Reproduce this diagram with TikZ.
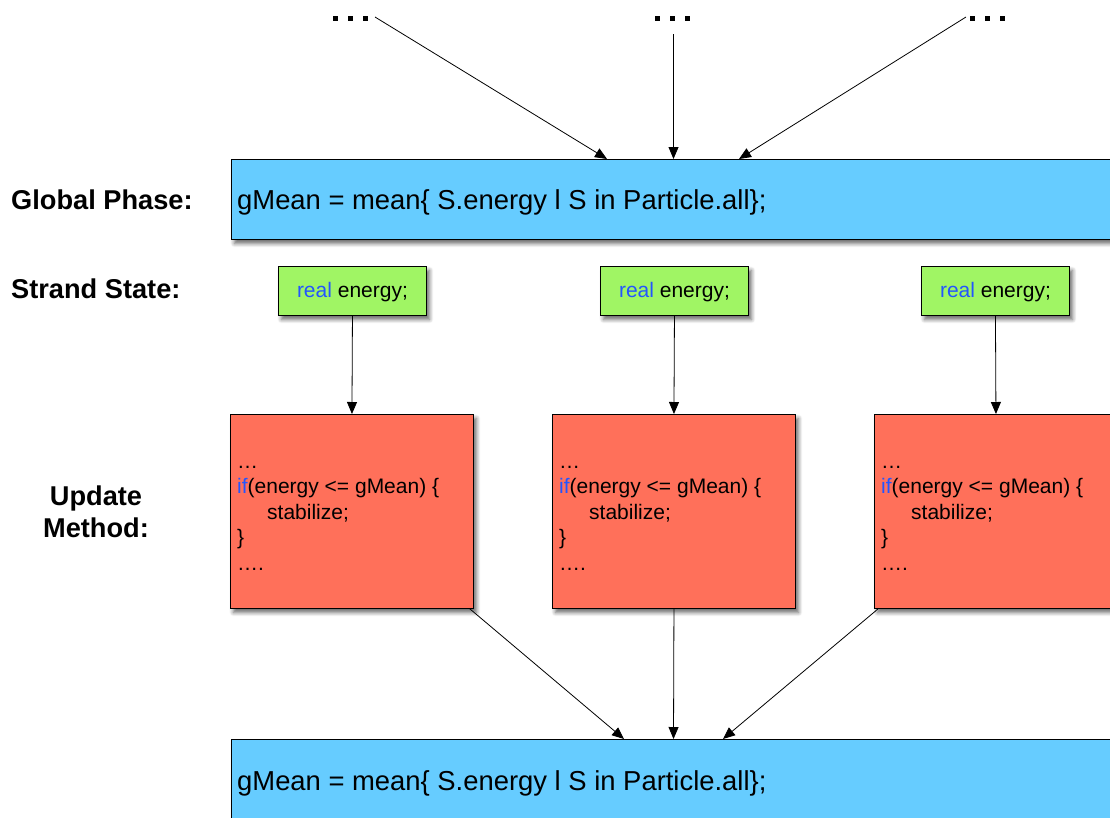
\documentclass[tikz,border=0pt]{standalone}
\usepackage{fontspec}
\setmainfont{Liberation Sans}
\usetikzlibrary{shadows,shadows.blur,arrows.meta,calc}
\definecolor{gblue}{RGB}{102,204,255}
\definecolor{sgreen}{RGB}{160,245,100}
\definecolor{ured}{RGB}{255,112,90}
\definecolor{kw}{RGB}{35,85,255}
\begin{document}
\begin{tikzpicture}[x=1pt,y=-1pt,
  shad/.style={blur shadow={shadow xshift=3pt, shadow yshift=-4pt, shadow blur steps=6, shadow opacity=60, shadow blur radius=4pt}},
  gbox/.style={draw=black, line width=0.9pt, fill=gblue, inner sep=0pt, minimum width=900pt, minimum height=80pt, anchor=north west, shad},
  sbox/.style={draw=black, line width=0.9pt, fill=sgreen, inner sep=0pt, minimum width=148pt, minimum height=49pt, anchor=north west, shad},
  ubox/.style={draw=black, line width=0.9pt, fill=ured, inner sep=0pt, minimum width=243pt, minimum height=194pt, anchor=north west, shad},
  big/.style={font=\fontsize{27.4}{32}\selectfont, inner sep=0pt, anchor=base west},
  code/.style={font=\fontsize{21}{25}\selectfont, inner sep=0pt, anchor=base west},
  lab/.style={font=\fontsize{27.2}{32}\selectfont\bfseries, inner sep=0pt},
  dot/.style={fill=black, draw=none},
  arr/.style={-{Triangle[length=12pt,width=10pt]}, line width=0.8pt}]
\useasboundingbox (0,0) rectangle (1110,817);
% top dots
\foreach \g/\x in {1/333,2/655,3/970} {
  \foreach \k in {0,15,30} {
    \fill[dot] (\x+\k,16) rectangle ++(5,5);
  }
}
\coordinate (d1) at (375,17);
\coordinate (d2) at (673.5,34);
\coordinate (d3) at (966,17);
% global phase boxes
\node[gbox] (gtop) at (231,159) {};
\node[big] (gtoptext) at (237,209) {gMean = mean\{ S.energy l S in Particle.all\};};
\node[gbox] (gbot) at (231,739) {};
\node[big] (gbottext) at (237,790) {gMean = mean\{ S.energy l S in Particle.all\};};
% labels
\node[lab, anchor=base west] (lglobal) at (11,209) {Global Phase:};
\node[lab, anchor=base west] (lstrand) at (11,298) {Strand State:};
\node[lab, align=center, anchor=base] (lupdate) at (96,537) {Update\\Method:};
% strands
\foreach \n/\x/\u in {1/278/230,2/600/552,3/921/874} {
  \node[sbox] (s\n) at (\x,266) {};
  \node[code, anchor=base] (s\n t) at ($(s\n.north)+(0,31)$) {\textcolor{kw}{real} energy;};
  \node[ubox] (u\n) at (\u,414) {};
  \node[code] (u\n a) at (\u+7,468) {…};
  \node[code] (u\n b) at (\u+7,493.5) {\textcolor{kw}{if}(energy <= gMean) \{};
  \node[code] (u\n c) at (\u+37,519) {stabilize;};
  \node[code] (u\n d) at (\u+7,544.5) {\}};
  \node[code] (u\n e) at (\u+7,570) {….};
  \draw[arr] (s\n.south) -- (u\n.north);
}
% arrows
\draw[arr] (d1) -- ([xshift=376pt]gtop.north west);
\draw[arr] (d2) -- ([xshift=442.5pt]gtop.north west);
\draw[arr] (d3) -- ([xshift=508pt]gtop.north west);
\draw[arr] ([xshift=-4pt]u1.south east) -- ([xshift=393pt]gbot.north west);
\draw[arr] (u2.south) -- ([xshift=442.5pt]gbot.north west);
\draw[arr] ([xshift=4pt]u3.south west) -- ([xshift=492pt]gbot.north west);
\end{tikzpicture}
\end{document}
